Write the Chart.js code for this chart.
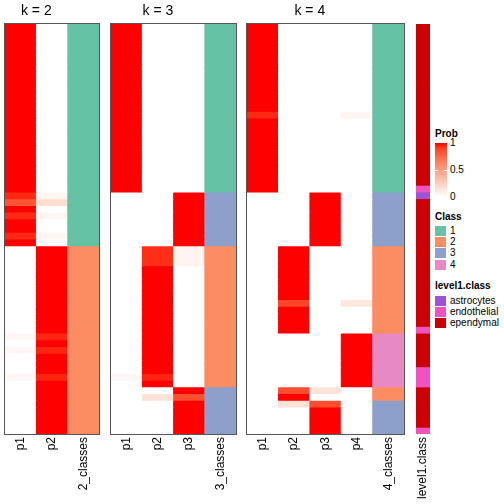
<!DOCTYPE html>
<html>
<head>
<meta charset="utf-8">
<script src="https://cdn.jsdelivr.net/npm/chart.js@4.4.1/dist/chart.umd.min.js"></script>
<style>
  body{margin:0;background:#fff;}
  #wrap{position:relative;width:504px;height:504px;overflow:hidden;font-family:"Liberation Sans",Arial,sans-serif;}
  canvas{position:absolute;top:0;}
  .lg{position:absolute;font-size:10px;color:#000;line-height:12px;white-space:nowrap;}
  .lgt{font-weight:bold;}
  .sw{position:absolute;width:11px;height:10px;}
</style>
</head>
<body>
<div id="wrap">
  <canvas id="k2" width="96" height="504" style="left:4px"></canvas>
  <canvas id="k3" width="127" height="504" style="left:110px"></canvas>
  <canvas id="k4" width="159" height="504" style="left:246px"></canvas>
  <canvas id="anno" width="16" height="504" style="left:415px"></canvas>
  <div id="legend"></div>
</div>
<script>
// data: 61 samples, top to bottom
const nRows = 61;

// k = 2
const k2_p1 = [1,1,1,1,1,1,1,1,1,1, 1,1,1,1,1,1,1,1,1,1, 1,1,1,1,1,.95,.82,1,.95,1,
               1,.95,1,0,0,0,0,0,0,0, 0,0,0,0,0,0,.04,0,.04,0, 0,0,.04,0,0,0,0,0,0,0, 0];
const k2_p2 = [0,0,0,0,0,0,0,0,0,0, 0,0,0,0,0,0,0,0,0,0, 0,0,0,0,0,.05,.18,0,.05,0,
               0,.05,0,1,1,1,1,1,1,1, 1,1,1,1,1,1,.96,1,.96,1, 1,1,.96,1,1,1,1,1,1,1, 1];
const k2_cls = [1,1,1,1,1,1,1,1,1,1, 1,1,1,1,1,1,1,1,1,1, 1,1,1,1,1,1,1,1,1,1,
                1,1,1,2,2,2,2,2,2,2, 2,2,2,2,2,2,2,2,2,2, 2,2,2,2,2,2,2,2,2,2, 2];

// k = 3
const k3_p1 = [1,1,1,1,1,1,1,1,1,1, 1,1,1,1,1,1,1,1,1,1, 1,1,1,1,1,0,0,0,0,0,
               0,0,0,0,0,0,0,0,0,0, 0,0,0,0,0,0,0,0,0,0, 0,0,.04,0,0,0,0,0,0,0, 0];
const k3_p2 = [0,0,0,0,0,0,0,0,0,0, 0,0,0,0,0,0,0,0,0,0, 0,0,0,0,0,0,0,0,0,0,
               0,0,0,.94,.94,.94,1,1,1,1, 1,1,1,1,1,1,1,1,1,1, 1,1,.96,1,0,.15,0,0,0,0, 0];
const k3_p3 = [0,0,0,0,0,0,0,0,0,0, 0,0,0,0,0,0,0,0,0,0, 0,0,0,0,0,1,1,1,1,1,
               1,1,1,.06,.06,.06,0,0,0,0, 0,0,0,0,0,0,0,0,0,0, 0,0,0,0,1,.85,1,1,1,1, 1];
const k3_cls = [1,1,1,1,1,1,1,1,1,1, 1,1,1,1,1,1,1,1,1,1, 1,1,1,1,1,3,3,3,3,3,
                3,3,3,2,2,2,2,2,2,2, 2,2,2,2,2,2,2,2,2,2, 2,2,2,2,3,3,3,3,3,3, 3];

// k = 4
const k4_p1 = [1,1,1,1,1,1,1,1,1,1, 1,1,1,.95,1,1,1,1,1,1, 1,1,1,1,1,0,0,0,0,0,
               0,0,0,0,0,0,0,0,0,0, 0,0,0,0,0,0,0,0,0,0, 0,0,0,0,0,0,0,0,0,0, 0];
const k4_p2 = [0,0,0,0,0,0,0,0,0,0, 0,0,0,0,0,0,0,0,0,0, 0,0,0,0,0,0,0,0,0,0,
               0,0,0,1,1,1,1,1,1,1, 1,.88,1,1,1,1,0,0,0,0, 0,0,0,0,.85,1,.15,0,0,0, 0];
const k4_p3 = [0,0,0,0,0,0,0,0,0,0, 0,0,0,0,0,0,0,0,0,0, 0,0,0,0,0,1,1,1,1,1,
               1,1,1,0,0,0,0,0,0,0, 0,0,0,0,0,0,0,0,0,0, 0,0,0,0,.15,0,.85,1,1,1, 1];
const k4_p4 = [0,0,0,0,0,0,0,0,0,0, 0,0,0,.05,0,0,0,0,0,0, 0,0,0,0,0,0,0,0,0,0,
               0,0,0,0,0,0,0,0,0,0, 0,.12,0,0,0,0,1,1,1,1, 1,1,1,1,0,0,0,0,0,0, 0];
const k4_cls = [1,1,1,1,1,1,1,1,1,1, 1,1,1,1,1,1,1,1,1,1, 1,1,1,1,1,3,3,3,3,3,
                3,3,3,2,2,2,2,2,2,2, 2,2,2,2,2,2,4,4,4,4, 4,4,4,4,2,2,3,3,3,3, 3];

// level1.class annotation (index into level1Names)
const level1Names = ['astrocytes', 'endothelial', 'ependymal'];
const level1Colors = ['#9E52D6', '#F052BF', '#CC0000'];
const level1 = [2,2,2,2,2,2,2,2,2,2, 2,2,2,2,2,2,2,2,2,2, 2,2,2,2,1,0,2,2,2,2,
                2,2,2,2,2,2,2,2,2,2, 2,2,2,2,2,1,2,2,2,2, 2,1,1,1,2,2,2,2,2,2, 1];

const classNames = ['1', '2', '3', '4'];
const classColors = {1: '#66C2A5', 2: '#FC8D62', 3: '#8DA0CB', 4: '#E78AC3'};
const probTicks = [1, 0.5, 0];

const fontFamily = '"Liberation Sans", Arial, sans-serif';

// white -> red colour ramp interpolated in LAB
function rgb2lab(rgb){
    const lin = rgb.map(v => { v /= 255; return v <= 0.04045 ? v / 12.92 : Math.pow((v + 0.055) / 1.055, 2.4); });
    const X = (lin[0]*0.4124 + lin[1]*0.3576 + lin[2]*0.1805) / 0.95047;
    const Y = (lin[0]*0.2126 + lin[1]*0.7152 + lin[2]*0.0722);
    const Z = (lin[0]*0.0193 + lin[1]*0.1192 + lin[2]*0.9505) / 1.08883;
    const f = t => t > 0.008856 ? Math.cbrt(t) : 7.787*t + 16/116;
    return [116*f(Y) - 16, 500*(f(X) - f(Y)), 200*(f(Y) - f(Z))];
}
function lab2rgb(lab){
    const fy = (lab[0] + 16) / 116, fx = fy + lab[1] / 500, fz = fy - lab[2] / 200;
    const finv = t => t*t*t > 0.008856 ? t*t*t : (t - 16/116) / 7.787;
    const X = finv(fx)*0.95047, Y = finv(fy), Z = finv(fz)*1.08883;
    const lin = [3.2406*X - 1.5372*Y - 0.4986*Z, -0.9689*X + 1.8758*Y + 0.0415*Z, 0.0557*X - 0.2040*Y + 1.0570*Z];
    return lin.map(v => {
        v = v <= 0.0031308 ? 12.92*v : 1.055*Math.pow(v, 1/2.4) - 0.055;
        return Math.round(Math.min(1, Math.max(0, v)) * 255);
    });
}
const labWhite = rgb2lab([255,255,255]);
const labRed = rgb2lab([255,0,0]);
function probColor(p){
    const c = lab2rgb(labWhite.map((w, i) => w + (labRed[i] - w) * p));
    return 'rgb(' + c.join(',') + ')';
}

// plugins
const panelTitle = {
    id: 'panelTitle',
    afterDraw(chart, args, opts){
        if (!opts.text) return;
        const x = chart.scales.x, ctx = chart.ctx;
        //title sits over the probability columns only
        const mid = (x.getPixelForValue(0) + x.getPixelForValue(x.getLabels().length - 2)) / 2;
        ctx.save();
        ctx.font = '14px ' + fontFamily;
        ctx.fillStyle = '#000';
        ctx.textAlign = 'center';
        ctx.textBaseline = 'alphabetic';
        ctx.fillText(opts.text, mid, 15);
        ctx.restore();
    }
};
const panelBorder = {
    id: 'panelBorder',
    afterDatasetsDraw(chart){
        const a = chart.chartArea, ctx = chart.ctx;
        ctx.save();
        ctx.strokeStyle = '#555';
        ctx.lineWidth = 1;
        ctx.strokeRect(a.left - 0.5, a.top - 0.5, a.right - a.left + 1, a.bottom - a.top + 1);
        ctx.restore();
    }
};

function makePanel(id, labels, cols, kinds, title, withBorder){
    const datasets = [];
    for (let i = 0; i < nRows; i++) {
        datasets.push({
            data: cols.map(() => 1),
            backgroundColor: cols.map((c, j) => kinds[j](c[i])),
            borderWidth: 0,
            barPercentage: 1,
            categoryPercentage: 1,
            inflateAmount: 0.4
        });
    }
    const plugins = [panelTitle];
    if (withBorder) plugins.push(panelBorder);
    return new Chart(document.getElementById(id), {
        type: 'bar',
        data: {labels: labels, datasets: datasets},
        options: {
            responsive: false,
            animation: false,
            events: [],
            layout: {padding: {top: 24, left: 1, right: 1, bottom: 0}},
            plugins: {
                legend: {display: false},
                tooltip: {enabled: false},
                panelTitle: {text: title}
            },
            scales: {
                x: {
                    stacked: true,
                    grid: {display: false, drawTicks: false},
                    border: {display: false},
                    ticks: {minRotation: 90, maxRotation: 90, autoSkip: false, padding: 3, color: '#000',
                            font: {family: fontFamily, size: 12}},
                    afterFit: s => { s.height = 70; s.paddingLeft = 0; s.paddingRight = 0; }
                },
                y: {stacked: true, display: false, min: 0, max: nRows, reverse: true}
            }
        },
        plugins: plugins
    });
}

const prob = v => probColor(v);
const cls = v => classColors[v];

makePanel('k2', ['p1', 'p2', '2_classes'], [k2_p1, k2_p2, k2_cls], [prob, prob, cls], 'k = 2', true);
makePanel('k3', ['p1', 'p2', 'p3', '3_classes'], [k3_p1, k3_p2, k3_p3, k3_cls], [prob, prob, prob, cls], 'k = 3', true);
makePanel('k4', ['p1', 'p2', 'p3', 'p4', '4_classes'], [k4_p1, k4_p2, k4_p3, k4_p4, k4_cls], [prob, prob, prob, prob, cls], 'k = 4', true);
makePanel('anno', ['level1.class'], [level1], [v => level1Colors[v]], '', false);

// legends
const legend = document.getElementById('legend');
function addEl(cls, left, top, text, style){
    const d = document.createElement('div');
    d.className = cls;
    d.style.left = left + 'px';
    d.style.top = top + 'px';
    if (text !== undefined) d.textContent = text;
    if (style) Object.assign(d.style, style);
    legend.appendChild(d);
    return d;
}

//Prob colour bar
addEl('lg lgt', 435, 127.5, 'Prob');
const stops = [];
for (let s = 0; s <= 10; s++) stops.push(probColor(1 - s / 10) + ' ' + (s * 10) + '%');
addEl('sw', 435, 143, undefined, {width: '12px', height: '54px', background: 'linear-gradient(to bottom,' + stops.join(',') + ')'});
probTicks.forEach(t => {
    const y = 143 + (1 - t) * 54;
    addEl('lg', 450, y - 6, String(t));
    if (t > 0 && t < 1) {
        addEl('sw', 435, y, undefined, {width: '3px', height: '1px', background: '#fff'});
        addEl('sw', 444, y, undefined, {width: '3px', height: '1px', background: '#fff'});
    }
});

//Class
addEl('lg lgt', 435, 211, 'Class');
classNames.forEach((n, i) => {
    const y = 226 + i * 11.2;
    addEl('sw', 435, y, undefined, {background: classColors[n]});
    addEl('lg', 450, y - 1, n);
});

//level1.class
addEl('lg lgt', 435, 279.5, 'level1.class');
level1Names.forEach((n, i) => {
    const y = 296 + i * 11.2;
    addEl('sw', 435, y, undefined, {background: level1Colors[i]});
    addEl('lg', 450, y - 1, n);
});
</script>
</body>
</html>
